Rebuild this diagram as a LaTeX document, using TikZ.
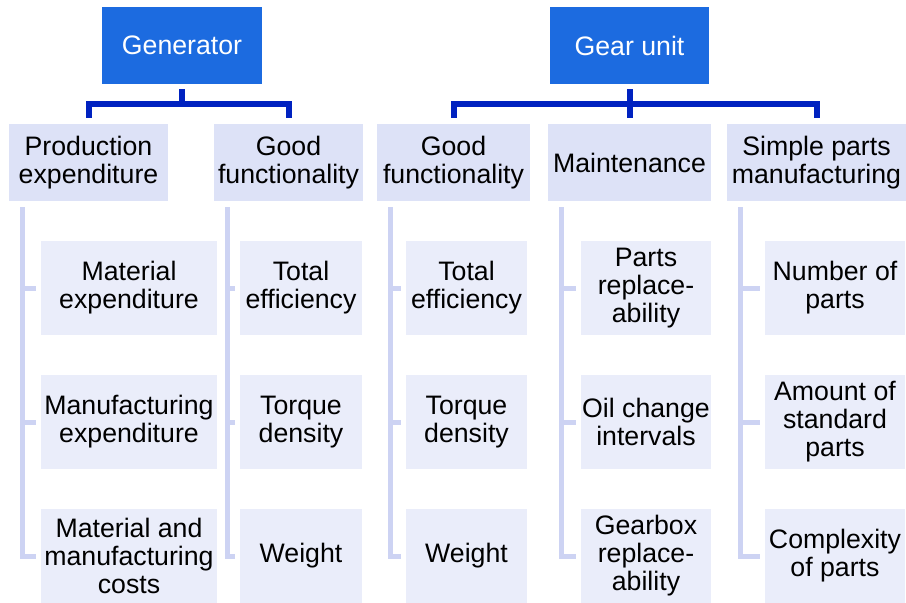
\documentclass[tikz,border=0pt]{standalone}
\usepackage{fontspec}
\setmainfont{Liberation Sans}
\definecolor{topblue}{RGB}{28,107,224}
\definecolor{connblue}{RGB}{0,34,192}
\definecolor{catfill}{RGB}{221,226,247}
\definecolor{leaffill}{RGB}{234,237,250}
\definecolor{branchline}{RGB}{205,211,243}
\begin{document}
\begin{tikzpicture}[x=1pt,y=1pt,
  every node/.style={inner sep=0pt, align=center, font=\fontsize{26.7}{28}\selectfont},
  topbox/.style={fill=topblue, text=white, minimum height=77pt},
  catbox/.style={fill=catfill, text=black, minimum height=77pt},
  leafbox/.style={fill=leaffill, text=black, minimum height=94pt},
  conn/.style={draw=connblue, line width=6pt, line join=miter},
  branch/.style={draw=branchline, line width=5pt, line join=miter}]
\useasboundingbox (0,0) rectangle (906,-603);

% top level
\node[topbox, minimum width=160pt] (gen)  at (182,-45.5)   {Generator};
\node[topbox, minimum width=159pt] (gear) at (629.5,-45.5) {Gear unit};

% categories
\node[catbox, minimum width=159pt] (pe) at (88.5,-162.5)  {Production\\expenditure};
\node[catbox, minimum width=149pt] (gf) at (288.5,-162.5) {Good\\functionality};
\node[catbox, minimum width=153pt] (gq) at (453.5,-162.5) {Good\\functionality};
\node[catbox, minimum width=163pt] (mt) at (629.5,-162.5) {Maintenance};
\node[catbox, minimum width=179pt] (sp) at (816.5,-162.5) {Simple parts\\manufacturing};

% criteria
\node[leafbox, minimum width=176pt] (pe1) at (129,-288) {Material\\expenditure};
\node[leafbox, minimum width=176pt] (pe2) at (129,-422) {Manufacturing\\expenditure};
\node[leafbox, minimum width=176pt] (pe3) at (129,-556) {Material and\\manufacturing\\costs};

\node[leafbox, minimum width=122pt] (gf1) at (301,-288) {Total\\efficiency};
\node[leafbox, minimum width=122pt] (gf2) at (301,-422) {Torque\\density};
\node[leafbox, minimum width=122pt] (gf3) at (301,-556) {Weight};

\node[leafbox, minimum width=121pt] (gq1) at (466.5,-288) {Total\\efficiency};
\node[leafbox, minimum width=121pt] (gq2) at (466.5,-422) {Torque\\density};
\node[leafbox, minimum width=121pt] (gq3) at (466.5,-556) {Weight};

\node[leafbox, minimum width=130pt] (mt1) at (646,-288) {Parts\\replace-\\ability};
\node[leafbox, minimum width=130pt] (mt2) at (646,-422) {Oil change\\intervals};
\node[leafbox, minimum width=130pt] (mt3) at (646,-556) {Gearbox\\replace-\\ability};

\node[leafbox, minimum width=140pt] (sp1) at (835,-288) {Number of\\parts};
\node[leafbox, minimum width=140pt] (sp2) at (835,-422) {Amount of\\standard\\parts};
\node[leafbox, minimum width=140pt] (sp3) at (835,-556) {Complexity\\of parts};

% connectors from the units to their categories
\coordinate (genj)  at ([yshift=-20pt]gen.south);
\coordinate (gearj) at ([yshift=-20pt]gear.south);
\draw[conn] ([yshift=-5pt]gen.south) -- (genj);
\draw[conn] ([yshift=6pt]pe.north) |- (genj) -| ([yshift=6pt]gf.north);
\draw[conn] ([yshift=-5pt]gear.south) -- ([yshift=6pt]mt.north);
\draw[conn] ([yshift=6pt]gq.north) |- (gearj) -| ([yshift=6pt]sp.north);

% branch lines from categories to their criteria
\foreach \c in {pe,gf,gq,mt,sp} {
  \coordinate (\c t) at ([xshift=14pt,yshift=-6pt]\c.south west);
  \draw[branch] (\c t) |- ([xshift=-5pt]\c3.west);
  \draw[branch] (\c t |- \c1.west) -- ([xshift=-5pt]\c1.west);
  \draw[branch] (\c t |- \c2.west) -- ([xshift=-5pt]\c2.west);
}
\end{tikzpicture}
\end{document}
